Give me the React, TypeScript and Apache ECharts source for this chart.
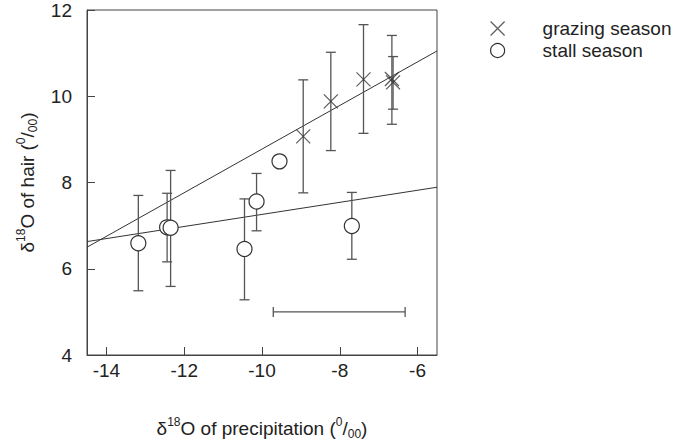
import React, { useEffect, useRef } from "react";
import * as echarts from "echarts";

// Grazing season (×)
const grazingX = [-8.94, -8.23, -7.39, -6.66, -6.63];
const grazingY = [9.07, 9.88, 10.39, 10.4, 10.32];
const grazingLow = [7.76, 8.74, 9.14, 9.35, 9.7];
const grazingHigh = [10.38, 11.02, 11.66, 11.41, 10.92];

// Stall season (○)
const stallX = [-13.18, -12.44, -12.35, -10.45, -10.14, -9.55, -7.69];
const stallY = [6.59, 6.96, 6.95, 6.46, 7.56, 8.49, 6.99];
const stallLow = [5.49, 6.16, 5.59, 5.28, 6.88, null, 6.22];
const stallHigh = [7.7, 7.75, 8.28, 7.62, 8.21, null, 7.77];

// Regression lines (endpoints at axis limits)
const fitX = [-14.5, -5.5];
const grazingFit = [6.5, 11.05];
const stallFit = [6.63, 7.89];

// Horizontal reference bar
const refBarX = [-9.71, -6.32];
const refBarY = 5.0;

// Axis ticks
const xTicks = [-14, -12, -10, -8, -6];
const yTicks = [4, 6, 8, 10, 12];

const X_PATH = "path://M0,0L14,14M14,0L0,14";
const INK = "#333";
const BAR = "#555";
const FONT = "'Liberation Sans', Arial, Helvetica, sans-serif";
const FS = 19;

function vErrData(xs: number[], lows: (number | null)[], highs: (number | null)[]) {
  const out: number[][] = [];
  xs.forEach((x, i) => {
    const lo = lows[i];
    const hi = highs[i];
    if (lo != null && hi != null) out.push([x, lo, hi]);
  });
  return out;
}

const richName = {
  d: { fontSize: FS, color: "#222", fontFamily: FONT, lineHeight: 24, verticalAlign: "middle" },
  s: { fontSize: 12, color: "#222", fontFamily: FONT, lineHeight: 12, verticalAlign: "top" },
  b: { fontSize: 12, color: "#222", fontFamily: FONT, lineHeight: 12, verticalAlign: "bottom" },
};

export default function App() {
  const ref = useRef<HTMLDivElement>(null);
  useEffect(() => {
    if (!ref.current) return;
    const chart = echarts.init(ref.current, undefined, { renderer: "svg" });
    const cap = 5;
    const vErrRender = (params: any, api: any) => {
      const x = api.value(0);
      const top = api.coord([x, api.value(2)]);
      const bot = api.coord([x, api.value(1)]);
      const style = { stroke: BAR, lineWidth: 1.3, fill: "none" };
      return {
        type: "group",
        children: [
          { type: "line", shape: { x1: top[0], y1: top[1], x2: bot[0], y2: bot[1] }, style },
          { type: "line", shape: { x1: top[0] - cap, y1: top[1], x2: top[0] + cap, y2: top[1] }, style },
          { type: "line", shape: { x1: bot[0] - cap, y1: bot[1], x2: bot[0] + cap, y2: bot[1] }, style },
        ],
      };
    };
    const hErrRender = (params: any, api: any) => {
      const y = api.value(2);
      const l = api.coord([api.value(0), y]);
      const r = api.coord([api.value(1), y]);
      const style = { stroke: BAR, lineWidth: 1.3, fill: "none" };
      return {
        type: "group",
        children: [
          { type: "line", shape: { x1: l[0], y1: l[1], x2: r[0], y2: r[1] }, style },
          { type: "line", shape: { x1: l[0], y1: l[1] - cap, x2: l[0], y2: l[1] + cap }, style },
          { type: "line", shape: { x1: r[0], y1: r[1] - cap, x2: r[0], y2: r[1] + cap }, style },
        ],
      };
    };

    chart.setOption({
      animation: false,
      backgroundColor: "#fff",
      textStyle: { fontFamily: FONT },
      grid: {
        left: 87,
        top: 10,
        right: 238,
        bottom: 85,
        show: true,
        borderColor: "#444",
        borderWidth: 1,
        backgroundColor: "transparent",
      },
      legend: {
        orient: "vertical",
        left: 485,
        top: 14,
        itemWidth: 14,
        itemHeight: 14,
        itemGap: 3,
        selectedMode: false,
        textStyle: { fontSize: FS, color: "#222", fontFamily: FONT, padding: [0, 0, 0, 33] },
        data: [
          {
            name: "grazing season",
            icon: X_PATH,
            itemStyle: { color: "transparent", borderColor: INK, borderWidth: 1.2 },
          },
          {
            name: "stall season",
            icon: "circle",
            itemStyle: { color: "#fff", borderColor: INK, borderWidth: 1.2 },
          },
        ],
      },
      xAxis: {
        type: "value",
        min: -14.5,
        max: -5.5,
        splitLine: { show: false },
        axisLine: { show: true, lineStyle: { color: "#444", width: 1 } },
        axisTick: { show: true, inside: true, length: 8, lineStyle: { color: "#444" }, customValues: xTicks },
        axisLabel: { fontSize: FS, color: "#222", margin: 6, fontFamily: FONT, customValues: xTicks },
        name: "{d|δ}{s|18}{d|O of precipitation (}{s|0}{d|/}{b|00}{d|)}",
        nameLocation: "middle",
        nameGap: 61,
        nameTextStyle: { rich: richName },
      },
      yAxis: {
        type: "value",
        min: 4,
        max: 12,
        splitLine: { show: false },
        axisLine: { show: true, lineStyle: { color: "#444", width: 1 } },
        axisTick: { show: true, inside: true, length: 8, lineStyle: { color: "#444" }, customValues: yTicks },
        axisLabel: { fontSize: FS, color: "#222", margin: 15, fontFamily: FONT, customValues: yTicks },
        name: "{d|δ}{s|18}{d|O of hair (}{s|0}{d|/}{b|00}{d|)}",
        nameLocation: "middle",
        nameGap: 48,
        nameTextStyle: { rich: richName },
      },
      series: [
        {
          type: "line",
          data: fitX.map((x, i) => [x, grazingFit[i]]),
          showSymbol: false,
          symbol: "none",
          lineStyle: { color: INK, width: 1 },
          silent: true,
          z: 1,
        },
        {
          type: "line",
          data: fitX.map((x, i) => [x, stallFit[i]]),
          showSymbol: false,
          symbol: "none",
          lineStyle: { color: INK, width: 1 },
          silent: true,
          z: 1,
        },
        {
          type: "custom",
          renderItem: vErrRender,
          data: vErrData(grazingX, grazingLow, grazingHigh),
          encode: { x: 0, y: [1, 2] },
          z: 2,
        },
        {
          type: "custom",
          renderItem: vErrRender,
          data: vErrData(stallX, stallLow, stallHigh),
          encode: { x: 0, y: [1, 2] },
          z: 2,
        },
        {
          type: "custom",
          renderItem: hErrRender,
          data: [[refBarX[0], refBarX[1], refBarY]],
          encode: { x: [0, 1], y: 2 },
          z: 2,
        },
        {
          name: "grazing season",
          type: "scatter",
          symbol: X_PATH,
          symbolSize: 14,
          data: grazingX.map((x, i) => [x, grazingY[i]]),
          itemStyle: { color: "transparent", borderColor: INK, borderWidth: 1.2 },
          z: 3,
        },
        {
          name: "stall season",
          type: "scatter",
          symbol: "circle",
          symbolSize: 15,
          data: stallX.map((x, i) => [x, stallY[i]]),
          itemStyle: { color: "#fff", borderColor: INK, borderWidth: 1.2, opacity: 1 },
          z: 3,
        },
      ],
    });
    return () => chart.dispose();
  }, []);
  return (
    <div
      ref={ref}
      style={{ position: "absolute", left: 0, top: 0, width: 675, height: 445, background: "#fff" }}
    />
  );
}
